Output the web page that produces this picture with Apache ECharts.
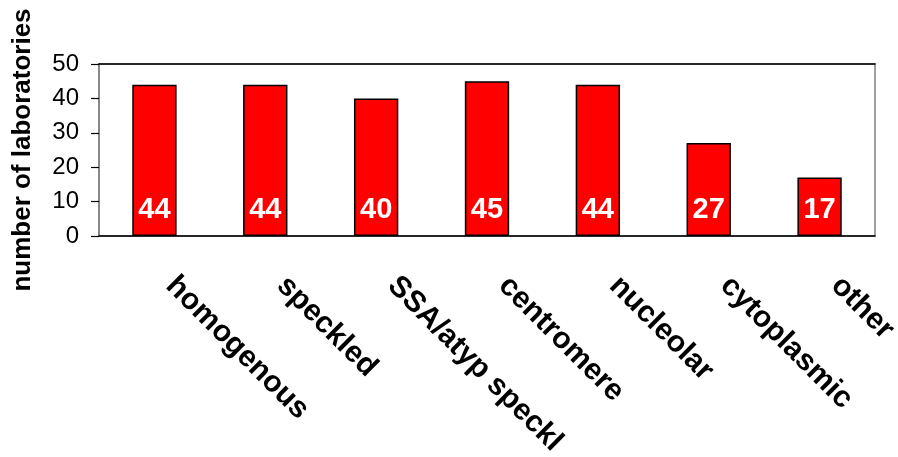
<!DOCTYPE html>
<html><head><meta charset="utf-8">
<script src="https://cdn.jsdelivr.net/npm/echarts@6/dist/echarts.min.js"></script>
<style>html,body{margin:0;padding:0;background:#fff}#c{width:898px;height:457px}</style>
</head><body><div id="c"></div>
<script>
const categories = ["homogenous","speckled","SSA/atyp speckl","centromere","nucleolar","cytoplasmic","other"];
const values = [44,44,40,45,44,27,17];
const yTicks = {min:0,max:50,interval:10};
const yTitle = "number of laboratories";

const chart = echarts.init(document.getElementById('c'),null,{renderer:'canvas'});
chart.setOption({
  animation:false,
  backgroundColor:'#fff',
  grid:{left:99,right:23,top:64,bottom:221,containLabel:false,outerBoundsMode:'none',
    show:true,borderColor:'#808080',borderWidth:1.5},
  xAxis:[{
    type:'category',data:categories,
    axisLine:{lineStyle:{color:'#000',width:1.5}},
    axisTick:{length:10,lineStyle:{color:'#808080',width:1.5}},
    axisLabel:{rotate:-45,interval:0,margin:29,padding:[0,0,0,23],
      fontFamily:'Liberation Sans, Arial, sans-serif',fontWeight:'bold',fontSize:30,color:'#000'}
  },{
    type:'category',data:categories,position:'top',
    axisLine:{lineStyle:{color:'#000',width:1.5}},axisTick:{show:false},axisLabel:{show:false}
  }],
  yAxis:{
    type:'value',min:yTicks.min,max:yTicks.max,interval:yTicks.interval,
    name:yTitle,nameLocation:'middle',nameGap:63,
    nameTextStyle:{fontFamily:'Liberation Sans, Arial, sans-serif',fontWeight:'bold',fontSize:26,color:'#000'},
    axisLine:{show:true,lineStyle:{color:'#808080',width:1.5}},
    axisTick:{show:true,length:8,lineStyle:{color:'#000',width:1.2}},
    splitLine:{show:false},
    axisLabel:{margin:20,fontFamily:'Liberation Sans, Arial, sans-serif',fontSize:24,color:'#000'}
  },
  series:[{
    type:'bar',data:values,barWidth:'40%',
    itemStyle:{color:'#ff0000',borderColor:'#000',borderWidth:1.5},
    label:{show:true,position:'insideBottom',distance:12,color:'#fff',fontWeight:'bold',
      fontSize:29,fontFamily:'Liberation Sans, Arial, sans-serif'}
  }]
});
</script></body></html>
